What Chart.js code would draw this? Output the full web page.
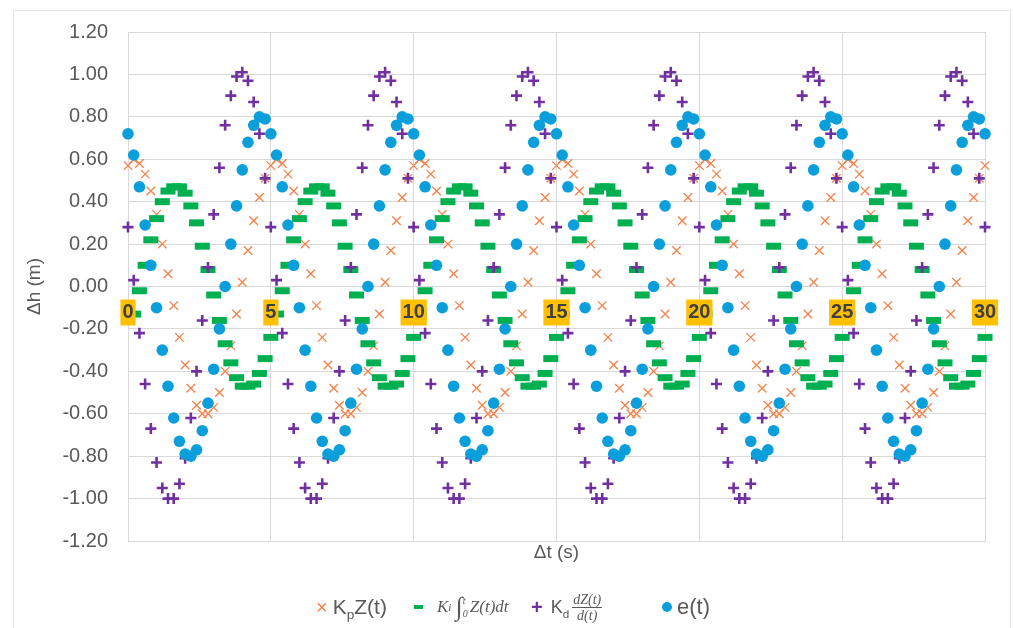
<!DOCTYPE html>
<html>
<head>
<meta charset="utf-8">
<script src="https://cdn.jsdelivr.net/npm/chart.js@4.4.1/dist/chart.umd.min.js"></script>
<style>
    body { margin: 0; background: #fff; }
    #wrap { position: relative; width: 1013px; height: 628px; font-family: "Liberation Sans", Arial, sans-serif; color: #595959; }
    #frame { position: absolute; left: 13px; top: 10px; width: 998px; height: 630px; border: 1px solid #e3e3e3; box-sizing: border-box; }
    #chart { position: absolute; left: 0; top: 0; }
    .item { position: absolute; top: 590px; height: 34px; display: flex; align-items: center; white-space: nowrap; }
    .sans { font-size: 21px; }
    .math { font-family: "Liberation Serif", "DejaVu Serif", serif; font-style: italic; font-size: 17px; display: flex; align-items: center; }
    sub, sup { font-size: 0.65em; line-height: 0; }
    .lim { display: inline-flex; flex-direction: column; font-size: 10px; line-height: 13px; margin: 0 2px 0 0; }
    .frac { display: inline-flex; flex-direction: column; align-items: center; font-family: "Liberation Serif", serif; font-style: italic; font-size: 14px; line-height: 15px; margin-left: 3px; }
    .frac .num { border-bottom: 1px solid #595959; padding: 0 1px; }
</style>
</head>
<body>
<div id="wrap">
    <div id="frame"></div>
    <canvas id="chart" width="1013" height="628"></canvas>
    <div class="item" style="left:316px"><span style="color:#F4804A;font-size:20px;margin-right:5px">×</span><span class="sans">K<sub>p</sub>Z(t)</span></div>
    <div class="item" style="left:414px"><span style="display:inline-block;width:9px;height:4px;background:#00B050;margin-right:14px"></span><span class="math">K<sub>i</sub>&nbsp;<span style="font-size:26px;font-style:normal">∫</span><span class="lim"><span>t</span><span>0</span></span>Z(t)dt</span></div>
    <div class="item" style="left:531px"><span style="color:#7030A0;font-size:20px;font-weight:bold;margin-right:8px">+</span><span style="font-size:18px">K<sub>d</sub></span><span class="frac"><span class="num">dZ(t)</span><span>d(t)</span></span></div>
    <div class="item" style="left:662px"><span style="display:inline-block;width:10px;height:10px;border-radius:50%;background:#0A9FDB;margin-right:5px"></span><span class="sans" style="font-size:22px">e(t)</span></div>
</div>
<script>
// one cycle of each signal (the pattern repeats every 5 s)
const cycleOffsets = [0, 0.2, 0.4, 0.6, 0.8, 1.0, 1.2, 1.4, 1.6, 1.8, 2.0, 2.2, 2.4, 2.6, 2.8, 3.0, 3.2, 3.4, 3.6, 3.8, 4.0, 4.2, 4.4, 4.6, 4.8];
const kiOffsets = [0.2, 0.4, 0.6, 0.8, 1.0, 1.2, 1.4, 1.6, 1.8, 2.0, 2.2, 2.4, 2.6, 2.8, 3.0, 3.2, 3.4, 3.6, 3.8, 4.0, 4.2, 4.4, 4.6, 4.8, 5.0];
const cycleStarts = [0, 5, 10, 15, 20, 25, 30];

const kpValues = [0.57, 0.60, 0.58, 0.53, 0.45, 0.34, 0.20, 0.06, -0.09, -0.24, -0.37, -0.48, -0.56, -0.60, -0.60, -0.57, -0.50, -0.40, -0.28, -0.13, 0.02, 0.17, 0.31, 0.42, 0.51];
const kiValues = [-0.13, -0.02, 0.10, 0.22, 0.32, 0.40, 0.45, 0.47, 0.47, 0.44, 0.38, 0.30, 0.19, 0.08, -0.04, -0.16, -0.27, -0.36, -0.43, -0.47, -0.47, -0.46, -0.41, -0.34, -0.24];
const kdValues = [0.28, 0.03, -0.22, -0.46, -0.67, -0.83, -0.95, -1.00, -1.00, -0.93, -0.81, -0.62, -0.40, -0.16, 0.09, 0.34, 0.56, 0.76, 0.90, 0.99, 1.01, 0.97, 0.87, 0.72, 0.51];
const eValues = [0.72, 0.62, 0.47, 0.29, 0.10, -0.10, -0.30, -0.47, -0.62, -0.73, -0.79, -0.80, -0.77, -0.68, -0.55, -0.39, -0.20, 0.00, 0.20, 0.38, 0.55, 0.68, 0.76, 0.80, 0.79];

const yTicks = [-1.2, -1.0, -0.8, -0.6, -0.4, -0.2, 0, 0.2, 0.4, 0.6, 0.8, 1.0, 1.2];
const xTicks = [0, 5, 10, 15, 20, 25, 30];

// repeat a cycle for every start; the last start only adds its first sample
function buildSeries(values, offsets) {
    const pts = [];
    cycleStarts.forEach((start, c) => {
        const n = c === cycleStarts.length - 1 ? 1 : values.length;
        for (let i = 0; i < n; i++) {
            pts.push({ x: +(start + offsets[i]).toFixed(1), y: values[i] });
        }
    });
    return pts;
}

const textColor = '#595959';
const gridColor = '#d9d9d9';

new Chart(document.getElementById('chart'), {
    type: 'scatter',
    data: {
        datasets: [{
            label: 'KpZ(t)',
            data: buildSeries(kpValues, cycleOffsets),
            pointStyle: 'crossRot',
            pointRadius: 6,
            borderColor: '#F4804A',
            borderWidth: 1.3,
            order: 4,
            clip: false
        }, {
            label: 'Ki integral',
            data: buildSeries(kiValues, kiOffsets),
            pointStyle: 'line',
            pointRadius: 7.5,
            borderColor: '#00B050',
            borderWidth: 7,
            order: 3,
            clip: false
        }, {
            label: 'Kd derivative',
            data: buildSeries(kdValues, cycleOffsets),
            pointStyle: 'cross',
            pointRadius: 5.5,
            borderColor: '#7030A0',
            borderWidth: 2.6,
            order: 2,
            clip: false
        }, {
            label: 'e(t)',
            data: buildSeries(eValues, cycleOffsets),
            pointStyle: 'circle',
            pointRadius: 5.8,
            backgroundColor: '#0A9FDB',
            borderColor: '#0A9FDB',
            borderWidth: 0,
            order: 1,
            clip: false
        }]
    },
    options: {
        responsive: false,
        animation: false,
        layout: { padding: { left: 0, right: 28, top: 30, bottom: 50 } },
        scales: {
            x: {
                type: 'linear',
                min: 0,
                max: 30,
                afterBuildTicks: (scale) => { scale.ticks = xTicks.map(v => ({ value: v })); },
                afterFit: (scale) => { scale.height = 37; },
                ticks: { display: false },
                grid: { color: gridColor, drawTicks: false },
                border: { color: gridColor },
                title: {
                    display: true,
                    text: 'Δt (s)',
                    color: textColor,
                    font: { family: 'Liberation Sans', size: 19 },
                    padding: { top: 0, bottom: 14 }
                }
            },
            xLabels: {
                type: 'linear',
                axis: 'x',
                position: { y: 0 },
                min: 0,
                max: 30,
                afterBuildTicks: (scale) => { scale.ticks = xTicks.map(v => ({ value: v })); },
                grid: { display: false, drawTicks: false },
                border: { display: false },
                ticks: {
                    z: 1,
                    color: '#404040',
                    font: { family: 'Liberation Sans', size: 20, weight: 'bold' },
                    padding: 14,
                    maxRotation: 0,
                    showLabelBackdrop: true,
                    backdropColor: '#FFC000',
                    backdropPadding: { x: 2, y: 1 }
                }
            },
            y: {
                min: -1.2,
                max: 1.2,
                afterBuildTicks: (scale) => { scale.ticks = yTicks.map(v => ({ value: v })); },
                afterFit: (scale) => { scale.width = 128; },
                ticks: {
                    color: textColor,
                    font: { family: 'Liberation Sans', size: 20 },
                    padding: 20,
                    callback: (v) => v.toFixed(2)
                },
                grid: { color: gridColor, drawTicks: false },
                border: { color: gridColor },
                title: {
                    display: true,
                    text: 'Δh (m)',
                    color: textColor,
                    font: { family: 'Liberation Sans', size: 19 },
                    padding: { top: 23, bottom: 0 }
                }
            }
        },
        plugins: {
            legend: { display: false },
            tooltip: { enabled: false }
        }
    }
});
</script>
</body>
</html>
